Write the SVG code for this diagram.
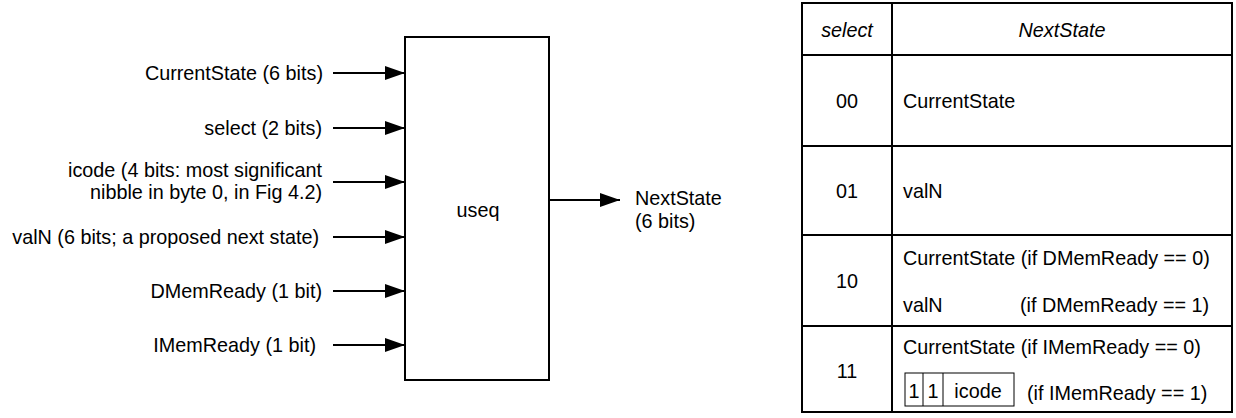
<svg xmlns="http://www.w3.org/2000/svg" width="1236" height="418" viewBox="0 0 1236 418">
<defs>
<style>
text{font-family:"Liberation Sans",Arial,sans-serif;font-size:19.8px;fill:#000}
.r{text-anchor:end}
.c{text-anchor:middle}
.i{font-style:italic}
.ln{stroke:#000;stroke-width:2;fill:none}
.thin{stroke:#000;stroke-width:1;fill:none}
</style>
<marker id="ah" markerWidth="20" markerHeight="14" refX="20" refY="7" orient="auto" markerUnits="userSpaceOnUse">
<path d="M0,0 L20,7 L0,14 z" fill="#000"/>
</marker>
</defs>
<rect width="1236" height="418" fill="#fff"/>
<g id="inputs">
<text class="r" x="323" y="80">CurrentState (6 bits)</text>
<text class="r" x="322" y="135">select (2 bits)</text>
<text class="r" x="322" y="177">icode (4 bits: most significant</text>
<text class="r" x="322" y="199">nibble in byte 0, in Fig 4.2)</text>
<text class="r" x="319" y="244">valN (6 bits; a proposed next state)</text>
<text class="r" x="322" y="298">DMemReady (1 bit)</text>
<text class="r" x="316" y="352">IMemReady (1 bit)</text>
</g>
<g id="useq">
<rect class="ln" x="405" y="37" width="144" height="343"/>
<text class="c" x="478" y="217">useq</text>
</g>
<g id="output">
<text x="635" y="205">NextState</text>
<text x="635" y="228">(6 bits)</text>
</g>
<g id="connectors">
<line class="ln" x1="333" y1="73" x2="405" y2="73" marker-end="url(#ah)"/>
<line class="ln" x1="333" y1="128" x2="405" y2="128" marker-end="url(#ah)"/>
<line class="ln" x1="333" y1="182" x2="405" y2="182" marker-end="url(#ah)"/>
<line class="ln" x1="333" y1="237" x2="405" y2="237" marker-end="url(#ah)"/>
<line class="ln" x1="333" y1="291" x2="405" y2="291" marker-end="url(#ah)"/>
<line class="ln" x1="333" y1="345" x2="405" y2="345" marker-end="url(#ah)"/>
<line class="ln" x1="550" y1="200" x2="620" y2="200" marker-end="url(#ah)"/>
</g>
<g id="table">
<rect class="ln" x="802" y="3" width="430" height="409"/>
<line class="ln" x1="892" y1="3" x2="892" y2="412"/>
<line class="ln" x1="802" y1="55" x2="1232" y2="55"/>
<line class="ln" x1="802" y1="146" x2="1232" y2="146"/>
<line class="ln" x1="802" y1="235" x2="1232" y2="235"/>
<line class="ln" x1="802" y1="326" x2="1232" y2="326"/>
<text class="c i" x="847" y="37">select</text>
<text class="c i" x="1062" y="37">NextState</text>
<text class="c" x="847" y="108">00</text>
<text x="903" y="108">CurrentState</text>
<text class="c" x="847" y="198">01</text>
<text x="903" y="198">valN</text>
<text class="c" x="847" y="288">10</text>
<text x="903" y="265">CurrentState (if DMemReady == 0)</text>
<text x="903" y="312">valN</text>
<text x="1020" y="312">(if DMemReady == 1)</text>
<text class="c" x="847" y="378">11</text>
<text x="903" y="354">CurrentState (if IMemReady == 0)</text>
<rect class="thin" x="905" y="373" width="109" height="33"/>
<line class="thin" x1="923" y1="373" x2="923" y2="406"/>
<line class="thin" x1="943" y1="373" x2="943" y2="406"/>
<text class="c" x="914" y="398">1</text>
<text class="c" x="933" y="398">1</text>
<text class="c" x="978" y="398">icode</text>
<text x="1027" y="400">(if IMemReady == 1)</text>
</g>
</svg>
